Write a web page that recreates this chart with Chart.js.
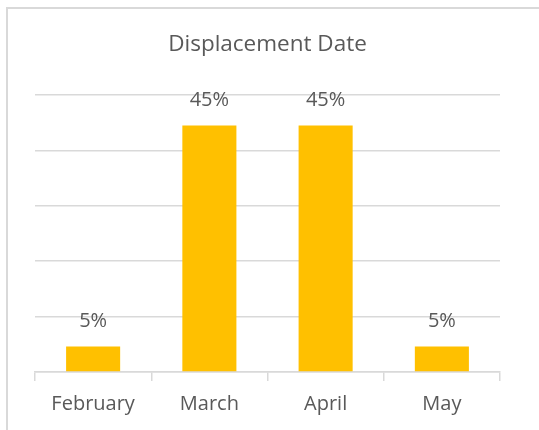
<!DOCTYPE html>
<html>
<head>
<meta charset="utf-8">
<script src="https://cdn.jsdelivr.net/npm/chart.js@4/dist/chart.umd.min.js"></script>
<style>
  html, body { margin: 0; padding: 0; background: #ffffff; overflow: hidden; }
  #frame { position: absolute; left: 6px; top: 7px; width: 600px; height: 500px; border: 2px solid #d9d9d9; box-sizing: border-box; }
  #wrap { position: absolute; left: 0; top: 0; width: 539px; height: 430px; }
</style>
</head>
<body>
<div id="frame"></div>
<div id="wrap"><canvas id="c" width="539" height="430"></canvas></div>
<script>
const categories = ["February", "March", "April", "May"];
const shares = [4.6, 44.5, 44.5, 4.6];
const chartTitle = "Displacement Date";

const FONT = "'Open Sans', 'Liberation Sans', sans-serif";
const TEXT = "#595959";
const GRID = "#d9d9d9";

const valueLabels = {
  id: 'valueLabels',
  afterDatasetsDraw(chart) {
    const ctx = chart.ctx;
    const meta = chart.getDatasetMeta(0);
    ctx.save();
    ctx.font = "20px " + FONT;
    ctx.fillStyle = TEXT;
    ctx.textAlign = 'center';
    ctx.textBaseline = 'middle';
    meta.data.forEach((bar, i) => {
      ctx.fillText(Math.round(shares[i]) + '%', bar.x, bar.y - 25);
    });
    ctx.restore();
  }
};

new Chart(document.getElementById('c'), {
  type: 'bar',
  data: {
    labels: categories,
    datasets: [{
      data: shares,
      backgroundColor: '#FFC000',
      borderWidth: 0,
      barPercentage: 0.93,
      categoryPercentage: 0.5
    }]
  },
  options: {
    responsive: false,
    animation: false,
    devicePixelRatio: 1,
    layout: { padding: { left: 35, right: 39, top: 0, bottom: 3 } },
    plugins: {
      legend: { display: false },
      tooltip: { enabled: false },
      title: {
        display: true,
        text: chartTitle,
        color: TEXT,
        font: { family: FONT, size: 22.5, weight: 'normal' },
        padding: { top: 31, bottom: 37 }
      }
    },
    scales: {
      x: {
        offset: true,
        grid: { display: true, offset: true, drawOnChartArea: false, drawTicks: true, tickLength: 9, color: GRID, lineWidth: 1.5 },
        border: { display: true, color: GRID, width: 1.5 },
        ticks: { color: TEXT, font: { family: FONT, size: 20 }, padding: 11 }
      },
      y: {
        min: 0, max: 50,
        ticks: { display: false, stepSize: 10 },
        grid: { color: GRID, lineWidth: 1.5, drawTicks: false },
        border: { display: false }
      }
    }
  },
  plugins: [valueLabels]
});
</script>
</body>
</html>
